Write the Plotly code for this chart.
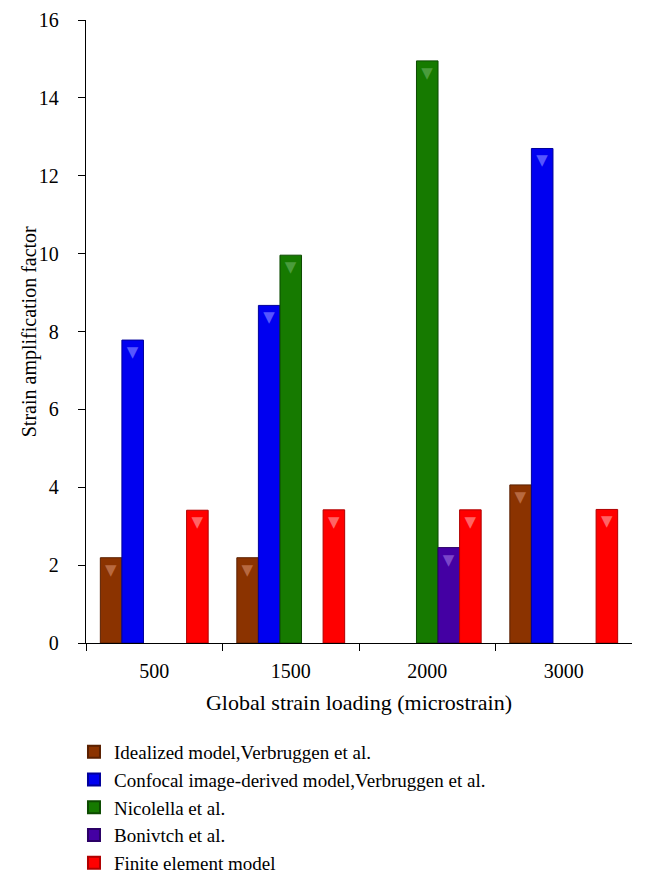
import plotly.graph_objects as go

categories = ["500", "1500", "2000", "3000"]
series_names = [
    "Idealized model,Verbruggen et al.",
    "Confocal image-derived model,Verbruggen et al.",
    "Nicolella et al.",
    "Bonivtch et al.",
    "Finite element model",
]
idealized = [2.19, 2.19, None, 4.06]
confocal = [7.78, 8.67, None, 12.70]
nicolella = [None, 9.96, 14.95, None]
bonivtch = [None, None, 2.45, None]
finite = [3.41, 3.42, 3.42, 3.43]

colors = ["#8B3300", "#0000F0", "#167A00", "#4400A3", "#FF0000"]
edges = ["#5a2000", "#00009a", "#0c4a00", "#2a0066", "#b00000"]
highlights = ["#b8693f", "#5656ff", "#4a9c3c", "#7b45c9", "#ff6464"]

font_family = "Liberation Serif, Times New Roman, serif"

fig = go.Figure()
for name, vals, c, e, h in zip(series_names, [idealized, confocal, nicolella, bonivtch, finite],
                               colors, edges, highlights):
    fig.add_trace(go.Bar(
        x=categories, y=vals, name=name,
        marker=dict(color=c, line=dict(color=e, width=1)),
        text=["\u25bc" if v is not None else "" for v in vals],
        textposition="inside", insidetextanchor="end", textangle=0,
        textfont=dict(family="DejaVu Sans", size=15, color=h),
        hoverinfo="x+y+name",
    ))

# page body has an 8px default margin, so the figure is offset and margins shifted;
# r=0 keeps the auto-margin padding at zero so the legend does not push the plot
fig.update_layout(
    width=624, height=875,
    margin=dict(l=78, r=0, t=12, b=240),
    paper_bgcolor="white", plot_bgcolor="white",
    barmode="group", bargap=0.21, bargroupgap=0,
    uniformtext=dict(minsize=6),
    font=dict(family=font_family, size=19, color="black"),
    showlegend=True,
    legend=dict(
        x=-0.022, xanchor="left", y=-0.1445, yanchor="top",
        font=dict(size=19, family=font_family),
        traceorder="normal", itemsizing="constant",
        bgcolor="rgba(0,0,0,0)",
    ),
    xaxis=dict(
        type="category", automargin=False,
        title=dict(text="Global strain loading (microstrain)", font=dict(size=22), standoff=13),
        showline=True, linecolor="black", linewidth=1.3,
        ticks="outside", tickson="boundaries", ticklen=7, tickcolor="black", tickwidth=1.3,
        tickfont=dict(size=20), ticklabelstandoff=10, showgrid=False, zeroline=False,
    ),
    yaxis=dict(
        range=[0, 16], dtick=2, automargin=False,
        showline=True, linecolor="black", linewidth=1.3,
        ticks="outside", ticklen=7, tickcolor="black", tickwidth=1.3,
        tickfont=dict(size=20), ticklabelstandoff=15, showgrid=False, zeroline=False,
    ),
    annotations=[dict(
        text="Strain amplification factor", textangle=-90,
        xref="paper", yref="paper", x=-0.103, y=0.5,
        xanchor="center", yanchor="middle", showarrow=False,
        font=dict(size=20, family=font_family, color="black"),
    )],
)

fig.write_html("out.html")
